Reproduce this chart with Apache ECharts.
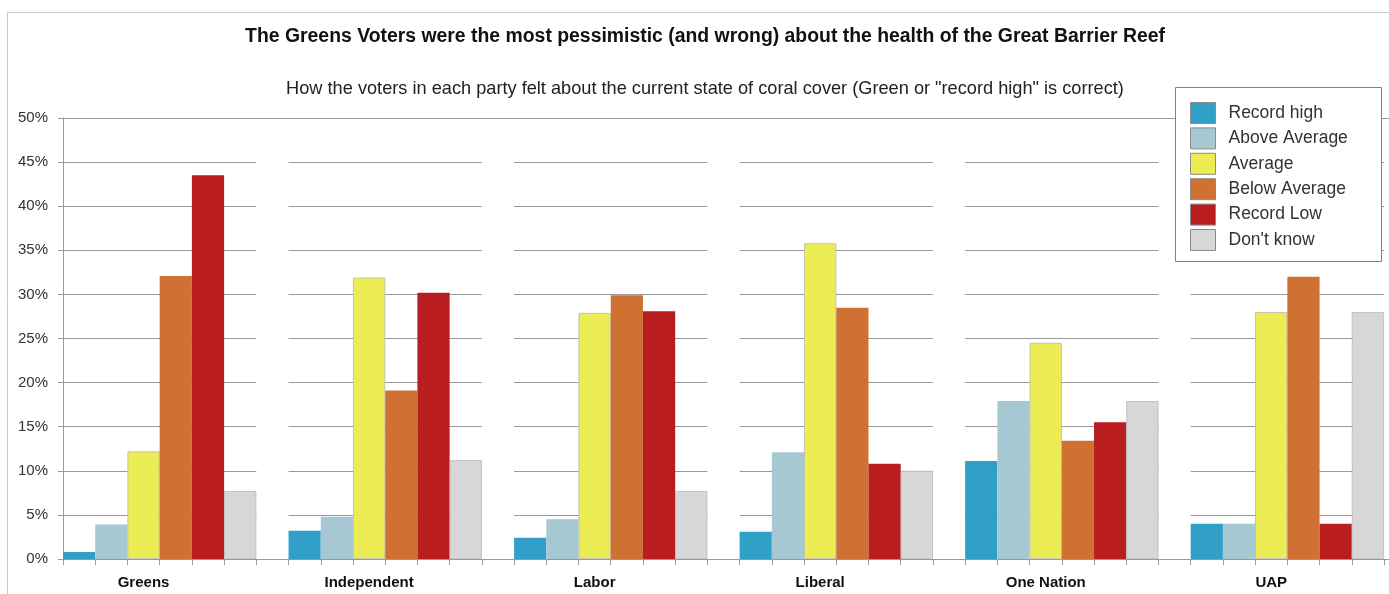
<!DOCTYPE html>
<html>
<head>
<meta charset="utf-8">
<script src="https://cdn.jsdelivr.net/npm/echarts@6/dist/echarts.min.js"></script>
<style>html,body{margin:0;padding:0;background:#fff}#c{width:1389px;height:594px}</style>
</head>
<body>
<div id="c"></div>
<script>
const parties = ['Greens', 'Independent', 'Labor', 'Liberal', 'One Nation', 'UAP'];
const ratings = ['Record high', 'Above Average', 'Average', 'Below Average', 'Record Low', "Don't know"];
const recordHigh   = [0.8, 3.2, 2.4, 3.1, 11.1, 4.0];
const aboveAverage = [3.9, 4.8, 4.5, 12.1, 17.9, 4.0];
const average      = [12.2, 31.9, 27.9, 35.8, 24.5, 28.0];
const belowAverage = [32.1, 19.1, 29.9, 28.5, 13.4, 32.0];
const recordLow    = [43.5, 30.2, 28.1, 10.8, 15.5, 4.0];
const dontKnow     = [7.7, 11.2, 7.7, 10.0, 17.9, 28.0];
const yMin = 0, yMax = 50, yStep = 5;

const seriesValues = [recordHigh, aboveAverage, average, belowAverage, recordLow, dontKnow];
const colors = ['#31a0c9', '#a6c8d3', '#ecec55', '#d07134', '#b91d20', '#d7d7d7'];

const FONT = "'Liberation Sans', Arial, sans-serif";
const GL = 63, SLOT = 32.22, TOP = 118, BOTTOM = 35;
const PER = ratings.length + 1; // 6 bars + one empty slot per party

const slots = [];
parties.forEach((p) => { for (let i = 0; i < PER; i++) slots.push(p + '#' + i); });

const grids = [{ left: GL, top: TOP, bottom: BOTTOM, width: SLOT * slots.length, outerBoundsMode: 'none', containLabel: false }];
const xAxes = [{
  type: 'category', gridIndex: 0, data: slots,
  axisLine: { lineStyle: { color: '#999', width: 1 } },
  axisTick: { show: true, interval: 0, length: 6, lineStyle: { color: '#999' } },
  axisLabel: {
    interval: (idx) => idx % PER === 2,
    formatter: (v) => v.split('#')[0],
    fontFamily: FONT, fontSize: 15, fontWeight: 'bold', color: '#111', margin: 16
  },
  splitLine: { show: false }
}];
const splitColors = [];
for (let v = yMin; v <= yMax; v += yStep) splitColors.push(v === yMax ? '#999' : 'rgba(0,0,0,0)');
const yAxes = [{
  type: 'value', gridIndex: 0, min: yMin, max: yMax, interval: yStep,
  axisLine: { show: true, lineStyle: { color: '#999' } },
  axisTick: { show: true, length: 5, lineStyle: { color: '#999' } },
  axisLabel: { formatter: (v) => v + '%', fontFamily: FONT, fontSize: 15, color: '#333', margin: 15 },
  splitLine: { show: true, lineStyle: { color: splitColors, width: 1 } }
}];
parties.forEach((p, pi) => {
  const left = GL + pi * PER * SLOT;
  grids.push({ left: left, top: TOP, bottom: BOTTOM, width: SLOT * ratings.length, outerBoundsMode: 'none', containLabel: false });
  xAxes.push({ type: 'category', gridIndex: pi + 1, data: [p], show: false });
  yAxes.push({
    type: 'value', gridIndex: pi + 1, min: yMin, max: yMax, interval: yStep,
    axisLine: { show: false }, axisTick: { show: false }, axisLabel: { show: false },
    splitLine: { show: true, lineStyle: { color: '#999', width: 1 } }
  });
});

const series = ratings.map((r, ri) => ({
  name: r, type: 'bar', stack: 'all', xAxisIndex: 0, yAxisIndex: 0,
  barCategoryGap: '0%', barGap: '0%',
  itemStyle: { color: colors[ri], borderColor: (ri === 2 || ri === 5) ? '#b8b8b8' : 'rgba(0,0,0,0)', borderWidth: (ri === 2 || ri === 5) ? 0.8 : 0 },
  data: slots.map((s, si) => (si % PER === ri ? seriesValues[ri][Math.floor(si / PER)] : '-')),
  z: 3
}));

const chart = echarts.init(document.getElementById('c'), null, { renderer: 'canvas', width: 1389, height: 594 });
chart.setOption({
  animation: false,
  backgroundColor: '#fff',
  grid: grids, xAxis: xAxes, yAxis: yAxes, series: series,
  legend: {
    orient: 'vertical', left: 1190, top: 102, padding: 0, itemWidth: 25, itemHeight: 21, itemGap: 3.4,
    icon: 'rect', data: ratings, z: 20,
    itemStyle: { borderColor: '#8a8a8a', borderWidth: 1 },
    textStyle: { fontFamily: FONT, fontSize: 17.5, color: '#333', padding: [0, 0, 0, 8] }
  },
  graphic: [
    { type: 'rect', shape: { x: 7.5, y: 12.5, width: 1400, height: 600 }, style: { fill: 'none', stroke: '#c8c8c8', lineWidth: 1 }, silent: true, z: -10 },
    { type: 'rect', shape: { x: 1175.5, y: 87.5, width: 206, height: 174 }, style: { fill: '#fff', stroke: '#6f8794', lineWidth: 1 }, silent: true, z: 10 },
    { type: 'text', x: 705, y: 37, style: { text: 'The Greens Voters were the most pessimistic (and wrong) about the health of the Great Barrier Reef', textAlign: 'center', textVerticalAlign: 'middle', fontFamily: FONT, fontSize: 19.4, fontWeight: 'bold', fill: '#111' } },
    { type: 'text', x: 705, y: 89, style: { text: 'How the voters in each party felt about the current state of coral cover (Green or "record high" is correct)', textAlign: 'center', textVerticalAlign: 'middle', fontFamily: FONT, fontSize: 18.2, fill: '#222' } }
  ]
});
</script>
</body>
</html>
